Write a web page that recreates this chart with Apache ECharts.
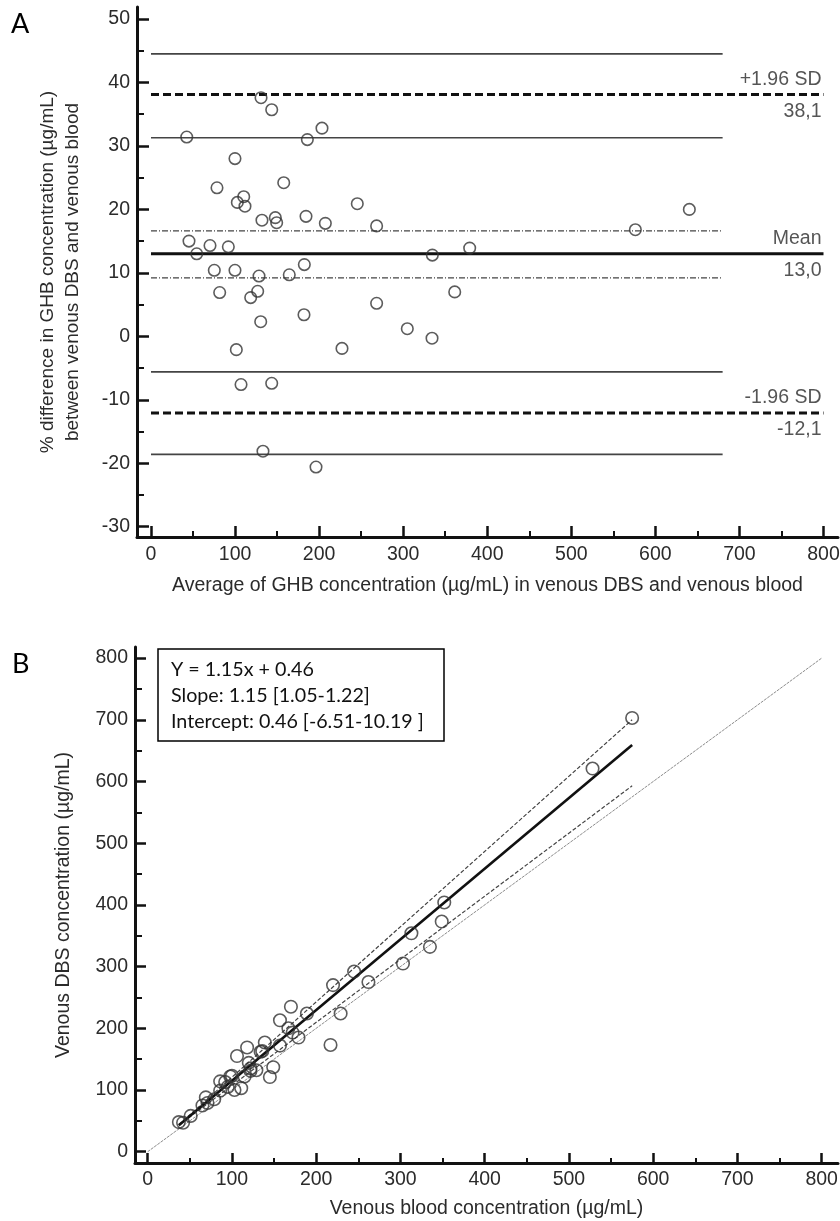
<!DOCTYPE html>
<html lang="en">
<head>
<meta charset="UTF-8">
<title>GHB venous DBS vs venous blood</title>
<style>
  html, body { margin: 0; padding: 0; background: #fff; }
  #chart { width: 840px; height: 1221px; }
</style>
</head>
<body>
<div id="chart"></div>
<script src="https://cdn.jsdelivr.net/npm/echarts@6/dist/echarts.min.js"></script>
<script>
// ---- panel A : Bland-Altman, average vs % difference ----
const avgA = [42.5, 130.9, 143.6, 186, 203.4, 99.9, 78.5, 157.9, 110.3, 102.7, 111.8, 245.4, 132, 147.9, 149.5, 184.4,
  207.4, 268.4, 45.2, 54.4, 70.2, 92, 75.3, 99.9, 128.5, 164.5, 182.4, 640.4, 576.2, 334.7, 379.1, 361.3,
  81.7, 118.6, 126.9, 130.5, 182, 268.4, 304.9, 101.5, 227.2, 107.1, 143.6, 133.2, 196.3, 334.3];
const diffA = [31.4, 37.6, 35.7, 31.0, 32.8, 28.0, 23.4, 24.2, 22.0, 21.1, 20.5, 20.9, 18.3, 18.7, 17.9, 18.9,
  17.8, 17.4, 15.0, 13.0, 14.3, 14.1, 10.4, 10.4, 9.5, 9.7, 11.3, 20.0, 16.8, 12.8, 13.9, 7.0,
  6.9, 6.1, 7.1, 2.3, 3.4, 5.2, 1.2, -2.1, -1.9, -7.6, -7.4, -18.1, -20.6, -0.3];
const limitValues = [38.1, 13.0, -12.1];
const limitNames = ['+1.96 SD', 'Mean', '-1.96 SD'];
const limitLabels = ['38,1', '13,0', '-12,1'];
const ciLimits = [44.5, 31.3, -5.6, -18.6];   // CI of the limits of agreement
const ciMean = [16.6, 9.2];                   // CI of the mean
const lineStartA = 0, ciEndA = 680, limitEndA = 800;
const xTicksA = [0, 100, 200, 300, 400, 500, 600, 700, 800];
const xMinorA = [50, 150, 250, 350, 450, 550, 650, 750];
const yTicksA = [-30, -20, -10, 0, 10, 20, 30, 40, 50];
const yMinorA = [-25, -15, -5, 5, 15, 25, 35, 45];

// ---- panel B : venous DBS vs venous blood ----
const bloodB = [37, 106, 118, 157, 170, 86, 69, 139, 98, 92, 100, 220, 120, 134, 136, 167,
  189, 245, 42, 51, 65, 86, 71, 95, 122, 157, 172, 575, 528, 313, 352, 349,
  79, 115, 122, 129, 179, 262, 303, 103, 229, 111, 149, 145, 217, 335];
const dbsB = [48, 155, 169, 213, 235, 114, 88, 177, 122, 113, 123, 270, 144, 162, 163, 200,
  224, 292, 47, 58, 75, 99, 79, 105, 135, 172, 193, 703, 621, 354, 404, 373,
  85, 122, 131, 132, 185, 275, 305, 100, 224, 103, 137, 121, 173, 332];
const identityX = [0, 800], identityY = [0, 800];
const regX = [37, 575], regY = [43, 659];
const ciUpY = [44, 700], ciLowY = [43, 593];
const ticksB = [0, 100, 200, 300, 400, 500, 600, 700, 800];
const minorB = [50, 150, 250, 350, 450, 550, 650, 750];

const FONT = "'Liberation Sans', Arial, sans-serif";
const TXT = '#2b2b2b';
const FS = 19.5;

function axisPair(dim, gridIndex, min, max, major, minor, o) {
  const pos = dim === 'x' ? 'bottom' : 'left';
  return [{
    type: 'value', gridIndex, min, max, position: pos,
    axisLine: { show: true, onZero: false, lineStyle: { color: '#111', width: 3 } },
    axisTick: { show: true, inside: true, length: o.tickLen, customValues: major, lineStyle: { color: '#111', width: 2.5 } },
    axisLabel: { show: true, customValues: major, margin: o.margin, color: TXT, fontSize: FS, fontFamily: FONT },
    splitLine: { show: false },
    name: o.name, nameLocation: 'middle', nameGap: o.nameGap, nameRotate: dim === 'y' ? 90 : 0,
    nameTextStyle: { color: TXT, fontSize: o.nameSize || FS, fontFamily: FONT, lineHeight: 25 }
  }, {
    type: 'value', gridIndex, min, max, position: pos,
    axisLine: { show: false, onZero: false },
    axisTick: { show: true, inside: true, length: o.minorLen, customValues: minor, lineStyle: { color: '#111', width: 2 } },
    axisLabel: { show: false },
    splitLine: { show: false }
  }];
}

const xA = axisPair('x', 0, -16.65, 817.25, xTicksA, xMinorA, {
  tickLen: 11, minorLen: 6, margin: 8, nameGap: 36,
  name: 'Average of GHB concentration (µg/mL) in venous DBS and venous blood'
});
const yA = axisPair('y', 0, -31.62, 51.89, yTicksA, yMinorA, {
  tickLen: 12, minorLen: 7, margin: 7, nameGap: 52, nameSize: 19,
  name: '% difference in GHB concentration (µg/mL)\nbetween venous DBS and venous blood'
});
const xB = axisPair('x', 1, -15.07, 819.35, ticksB, minorB, {
  tickLen: 10, minorLen: 5, margin: 7, nameGap: 33,
  name: 'Venous blood concentration (µg/mL)'
});
const yB = axisPair('y', 1, -18.3, 818, ticksB, minorB, {
  tickLen: 11, minorLen: 7, margin: 7, nameGap: 59,
  name: 'Venous DBS concentration (µg/mL)'
});

function hLine(v, x0, x1, style) {
  return {
    type: 'line', xAxisIndex: 0, yAxisIndex: 0, silent: true, symbol: 'none', z: 2,
    data: [[x0, v], [x1, v]], lineStyle: style
  };
}
function segB(xs, ys, style) {
  return {
    type: 'line', xAxisIndex: 2, yAxisIndex: 2, silent: true, symbol: 'none', z: 2,
    data: xs.map((x, i) => [x, ys[i]]), lineStyle: style
  };
}

const circle = { color: 'rgba(0,0,0,0)', borderColor: '#333', borderWidth: 1.6 };

const series = [];
ciLimits.forEach(v => series.push(hLine(v, lineStartA, ciEndA, { color: '#444', width: 1.6, type: 'solid' })));
ciMean.forEach(v => series.push(hLine(v, lineStartA, ciEndA, { color: '#444', width: 1.3, type: [6, 2, 1, 2] })));
limitValues.forEach((v, i) => series.push(hLine(v, lineStartA, limitEndA,
  i === 1 ? { color: '#111', width: 3, type: 'solid' } : { color: '#111', width: 3, type: [8, 4] })));
series.push({
  type: 'scatter', xAxisIndex: 0, yAxisIndex: 0, silent: true, symbolSize: 0, z: 3,
  data: limitValues.map((v, i) => ({ value: [limitEndA, v], name: limitNames[i] + '\n' + limitLabels[i] })),
  label: {
    show: true, position: 'left', distance: 2, offset: [0, 1], formatter: p => p.name,
    color: TXT, fontSize: FS, fontFamily: FONT, lineHeight: 32, align: 'right'
  }
});
series.push({
  type: 'scatter', xAxisIndex: 0, yAxisIndex: 0, silent: true, z: 5,
  symbol: 'circle', symbolSize: 11.5, itemStyle: circle,
  data: avgA.map((x, i) => [x, diffA[i]])
});

series.push(segB(identityX, identityY, { color: '#8c8c8c', width: 1, type: [3, 1] }));
series.push(segB(regX, ciUpY, { color: '#444', width: 1.2, type: [4, 2] }));
series.push(segB(regX, ciLowY, { color: '#444', width: 1.2, type: [4, 2] }));
series.push(segB(regX, regY, { color: '#111', width: 2.6, type: 'solid' }));
series.push({
  type: 'scatter', xAxisIndex: 2, yAxisIndex: 2, silent: true, z: 5,
  symbol: 'circle', symbolSize: 12.5, itemStyle: circle,
  data: bloodB.map((x, i) => [x, dbsB[i]])
});

const chart = echarts.init(document.getElementById('chart'), null, { renderer: 'canvas' });
chart.setOption({
  backgroundColor: '#fff',
  animation: false,
  title: [
    { text: 'A', left: 11, top: 11, padding: 0, textStyle: { fontFamily: 'Lato', fontSize: 27, fontWeight: 'normal', color: '#000' } },
    { text: 'B', left: 12, top: 651, padding: 0, textStyle: { fontFamily: 'Lato', fontSize: 27, fontWeight: 'normal', color: '#000' } },
    {
      text: 'Y = 1.15x + 0.46\nSlope: 1.15 [1.05-1.22]\nIntercept: 0.46 [-6.51-10.19 ]',
      left: 158, top: 649, padding: [8, 20, 6, 13], borderColor: '#000', borderWidth: 1.5,
      textStyle: { fontFamily: 'Lato', fontSize: 19.7, fontWeight: 'normal', color: '#111', lineHeight: 26 }
    }
  ],
  grid: [
    { left: 137, top: 7, width: 701, height: 530, outerBoundsMode: 'none' },
    { left: 135, top: 647, width: 703, height: 516, outerBoundsMode: 'none' }
  ],
  xAxis: [xA[0], xA[1], xB[0], xB[1]],
  yAxis: [yA[0], yA[1], yB[0], yB[1]],
  series
});
</script>
</body>
</html>
